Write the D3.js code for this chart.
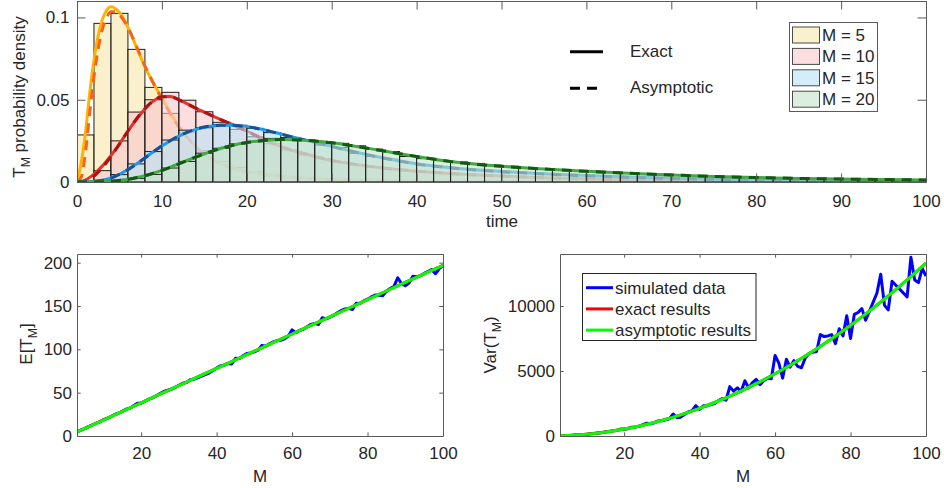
<!DOCTYPE html>
<html>
<head>
<meta charset="utf-8">
<script src="https://cdn.jsdelivr.net/npm/d3@7"></script>
<style>
  body { margin: 0; background: #fff; }
  svg text { font-family: "Liberation Sans", Arial, sans-serif; fill: #262626; }
</style>
</head>
<body>
<script>
// ---- top panel: density of T_M ----
const tGrid = [0, 0.5, 1, 1.5, 2, 2.5, 3, 3.5, 4, 4.5, 5,
  6, 7, 8, 9, 10, 11, 12, 13, 14, 15, 16, 17, 18,
  20, 22, 24, 26, 28, 30, 32, 34, 36, 38, 40,
  45, 50, 55, 60, 65, 70, 75, 80, 85, 90, 95, 100];

const exact5 = [0, 0.012, 0.030, 0.054, 0.074, 0.089, 0.099, 0.1045, 0.1065, 0.1055, 0.103,
  0.094, 0.082, 0.070, 0.060, 0.051, 0.042, 0.0335, 0.027, 0.0215, 0.017, 0.0135, 0.011, 0.009,
  0.0065, 0.0048, 0.0035, 0.0026, 0.002, 0.0015, 0.0012, 0.0009, 0.0007, 0.0005, 0.0004,
  0.0002, 0.0001, 0.00005, 0, 0, 0, 0, 0, 0, 0, 0, 0];
const asym5 = [0, 0.003, 0.018, 0.042, 0.064, 0.081, 0.093, 0.100, 0.1035, 0.1035, 0.1015,
  0.094, 0.0825, 0.0705, 0.060, 0.0505, 0.0415, 0.0335, 0.027, 0.0215, 0.017, 0.0135, 0.011, 0.009,
  0.0062, 0.0045, 0.0033, 0.0025, 0.0019, 0.0014, 0.0011, 0.0008, 0.0006, 0.0005, 0.0004,
  0.0002, 0.0001, 0, 0, 0, 0, 0, 0, 0, 0, 0, 0];
const exact10 = [0, 0.0003, 0.0012, 0.0028, 0.0048, 0.0072, 0.0098, 0.0128, 0.016, 0.0195, 0.0232,
  0.031, 0.038, 0.0443, 0.0492, 0.0518, 0.052, 0.050, 0.0475, 0.0448, 0.0425, 0.040, 0.0378, 0.0356,
  0.031, 0.026, 0.0215, 0.0182, 0.0155, 0.013, 0.0113, 0.0098, 0.0085, 0.0075, 0.0066,
  0.0048, 0.0036, 0.0026, 0.0019, 0.0014, 0.001, 0.0007, 0.0005, 0.0004, 0.0003, 0.0002, 0.0001];
const asym10 = [0, 0.0001, 0.0006, 0.0018, 0.0036, 0.006, 0.0088, 0.012, 0.0155, 0.0192, 0.023,
  0.031, 0.0383, 0.0447, 0.0494, 0.0518, 0.0519, 0.0499, 0.0474, 0.0449, 0.0425, 0.0401, 0.0378, 0.0355,
  0.0308, 0.0259, 0.0216, 0.0183, 0.0156, 0.0131, 0.0113, 0.0098, 0.0085, 0.0075, 0.0066,
  0.0048, 0.0036, 0.0026, 0.0019, 0.0014, 0.001, 0.0007, 0.0005, 0.0004, 0.0003, 0.0002, 0.0001];
const exact15 = [0, 0, 0.0001, 0.0002, 0.0004, 0.0007, 0.0011, 0.0017, 0.0025, 0.0035, 0.0047,
  0.0076, 0.011, 0.0146, 0.0184, 0.0219, 0.0251, 0.0279, 0.0302, 0.032, 0.0333, 0.0341, 0.0345, 0.0345,
  0.0337, 0.0318, 0.0292, 0.0266, 0.0242, 0.0217, 0.0192, 0.0168, 0.0147, 0.0128, 0.0111,
  0.0082, 0.0064, 0.005, 0.0039, 0.003, 0.0023, 0.0016, 0.0012, 0.0009, 0.0006, 0.0004, 0.0003];
const asym15 = [0, 0, 0, 0.0001, 0.0003, 0.0006, 0.001, 0.0016, 0.0024, 0.0034, 0.0046,
  0.0075, 0.0109, 0.0146, 0.0184, 0.022, 0.0252, 0.028, 0.0303, 0.0321, 0.0334, 0.0342, 0.0345, 0.0345,
  0.0336, 0.0317, 0.0291, 0.0265, 0.0241, 0.0216, 0.0191, 0.0167, 0.0146, 0.0127, 0.011,
  0.0081, 0.0063, 0.0049, 0.0038, 0.0029, 0.0022, 0.0016, 0.0012, 0.0009, 0.0006, 0.0004, 0.0003];
const exact20 = [0, 0, 0, 0, 0.0001, 0.0001, 0.0002, 0.0003, 0.0005, 0.0007, 0.001,
  0.0017, 0.0027, 0.0039, 0.0054, 0.0071, 0.0091, 0.0111, 0.0132, 0.0152, 0.0171, 0.0189, 0.0205, 0.0219,
  0.024, 0.0252, 0.0258, 0.0256, 0.0249, 0.0238, 0.0224, 0.0207, 0.019, 0.0172, 0.0155,
  0.0118, 0.0095, 0.0079, 0.0065, 0.0053, 0.0043, 0.0034, 0.0027, 0.0022, 0.0018, 0.0015, 0.0012];
const asym20 = [0, 0, 0, 0, 0, 0.0001, 0.0001, 0.0002, 0.0004, 0.0006, 0.0009,
  0.0016, 0.0026, 0.0038, 0.0053, 0.007, 0.009, 0.011, 0.0131, 0.0152, 0.0171, 0.0189, 0.0205, 0.0219,
  0.024, 0.0252, 0.0258, 0.0256, 0.0249, 0.0238, 0.0224, 0.0207, 0.019, 0.0172, 0.0155,
  0.0118, 0.0095, 0.0079, 0.0065, 0.0053, 0.0043, 0.0034, 0.0027, 0.0022, 0.0018, 0.0015, 0.0012];

// histogram heights, bins of width 2 from 0 to 100
const binWidth = 2;
const hist5 = [0.0286, 0.0964, 0.1025, 0.0806, 0.0575, 0.0417, 0.0300, 0.0190, 0.0125, 0.0088,
  0.0064, 0.0046, 0.0034, 0.0026, 0.0020, 0.0015, 0.0011, 0.0009, 0.0007, 0.0005,
  0.0004, 0.0003, 0.0002, 0.0002, 0.0001, 0.0001, 0.0001, 0, 0, 0,
  0, 0, 0, 0, 0, 0, 0, 0, 0, 0, 0, 0, 0, 0, 0, 0, 0, 0, 0, 0];
const hist10 = [0.0005, 0.0069, 0.0250, 0.0425, 0.0500, 0.0545, 0.0497, 0.0427, 0.0363, 0.0320,
  0.0275, 0.0232, 0.0195, 0.0165, 0.0142, 0.0122, 0.0106, 0.0092, 0.0080, 0.0070,
  0.0062, 0.0055, 0.0047, 0.0041, 0.0037, 0.0033, 0.0029, 0.0026, 0.0022, 0.0020,
  0.0017, 0.0015, 0.0014, 0.0012, 0.0011, 0.0010, 0.0008, 0.0008, 0.0007, 0.0006,
  0.0005, 0.0005, 0.0004, 0.0004, 0.0003, 0.0003, 0.0003, 0.0002, 0.0002, 0.0002];
const hist15 = [0.0001, 0.0010, 0.0045, 0.0110, 0.0185, 0.0255, 0.0315, 0.0330, 0.0350, 0.0345,
  0.0326, 0.0300, 0.0270, 0.0255, 0.0225, 0.0210, 0.0175, 0.0155, 0.0138, 0.0118,
  0.0102, 0.0092, 0.0082, 0.0075, 0.0068, 0.0062, 0.0057, 0.0051, 0.0046, 0.0041,
  0.0037, 0.0033, 0.0030, 0.0027, 0.0024, 0.0021, 0.0019, 0.0017, 0.0015, 0.0013,
  0.0012, 0.0010, 0.0009, 0.0008, 0.0007, 0.0006, 0.0005, 0.0005, 0.0004, 0.0003];
const hist20 = [0, 0.0002, 0.0010, 0.0022, 0.0046, 0.0085, 0.0125, 0.0175, 0.0205, 0.0232,
  0.0245, 0.0265, 0.0258, 0.0255, 0.0245, 0.0235, 0.0220, 0.0200, 0.0185, 0.0155,
  0.0142, 0.0130, 0.0122, 0.0113, 0.0102, 0.0096, 0.0088, 0.0082, 0.0075, 0.0070,
  0.0065, 0.0060, 0.0055, 0.0051, 0.0047, 0.0043, 0.0040, 0.0036, 0.0034, 0.0031,
  0.0029, 0.0026, 0.0024, 0.0022, 0.0020, 0.0019, 0.0017, 0.0016, 0.0014, 0.0013];

const seriesNames = ["M = 5", "M = 10", "M = 15", "M = 20"];
const timeTicks = [0, 10, 20, 30, 40, 50, 60, 70, 80, 90, 100];
const densTicks = [0, 0.05, 0.1];

// ---- bottom panels: mean and variance against M ----
const mValues = d3.range(3, 101);
const meanSim = [4.6, 6.7, 8.5, 10.8, 12.4, 14.6, 16.3, 18.7, 20.3, 22.2,
  24.8, 26.2, 28.6, 30.8, 32.1, 34.9, 37.8, 37.9, 40.1, 42.6,
  44.0, 46.5, 48.9, 51.4, 52.8, 53.9, 56.0, 58.6, 60.9, 61.8,
  64.9, 65.6, 67.2, 69.0, 70.8, 72.6, 75.2, 78.3, 80.9, 81.6,
  83.7, 83.1, 89.6, 89.4, 92.5, 95.2, 95.8, 97.1, 99.0, 104.6,
  103.5, 106.4, 108.6, 109.9, 110.4, 112.0, 115.2, 122.5, 119.2, 121.9,
  123.2, 126.0, 128.8, 129.9, 128.6, 136.4, 135.2, 137.0, 139.1, 142.2,
  144.6, 146.6, 147.2, 146.0, 153.2, 152.9, 155.9, 157.8, 160.5, 162.6,
  162.5, 161.9, 167.0, 170.2, 172.6, 182.5, 176.0, 173.4, 176.5, 184.3,
  183.9, 185.0, 187.6, 189.8, 192.0, 187.2, 193.0, 196.8];
const varSim = [14, 18, 36, 45, 70, 80, 116, 125, 170, 185,
  240, 250, 320, 330, 410, 420, 530, 510, 560, 680,
  690, 740, 870, 990, 930, 1010, 1160, 1170, 1250, 1330,
  1690, 1400, 1450, 1660, 1850, 1950, 2330, 2050, 2320, 2310,
  2420, 2500, 2720, 2880, 2750, 3800, 3450, 3700, 3420, 4250,
  3700, 4100, 4350, 3950, 4250, 4450, 4400, 6200, 5600, 4450,
  5900, 5300, 5800, 5350, 5250, 6000, 6350, 6450, 6500, 7800,
  7650, 7700, 7800, 7100, 8250, 7700, 9250, 7500, 9350, 9500,
  9800, 8900, 9600, 10300, 11000, 12450, 10050, 9700, 11900, 11600,
  11300, 11000, 10700, 13750, 12000, 11800, 12900, 12300];

const theoryM = [3, 5, 10, 15, 20, 25, 30, 35, 40, 45, 50, 55, 60, 65, 70, 75, 80, 85, 90, 95, 100];
const meanExact = [4.6, 8.6, 18.5, 28.4, 38.3, 48.3, 58.2, 68.1, 78.0, 87.9, 97.9,
  107.8, 117.7, 127.6, 137.5, 147.4, 157.4, 167.3, 177.2, 187.1, 197.0];
const meanAsym = [4.5, 8.5, 18.4, 28.4, 38.3, 48.2, 58.1, 68.1, 78.0, 87.9, 97.8,
  107.7, 117.7, 127.6, 137.5, 147.4, 157.3, 167.3, 177.2, 187.1, 197.0];
const varExact = [13, 34, 134, 300, 533, 832, 1198, 1630, 2129, 2694, 3326,
  4024, 4789, 5620, 6518, 7482, 8513, 9610, 10774, 12004, 13301];
const varAsym = [12, 33, 133, 299, 532, 831, 1197, 1629, 2128, 2693, 3325,
  4023, 4788, 5619, 6517, 7481, 8512, 9609, 10773, 12003, 13300];
const mTicks = [20, 40, 60, 80, 100];
const meanTicks = [0, 50, 100, 150, 200];
const varTicks = [0, 5000, 10000];
const lineNames = ["simulated data", "exact results", "asymptotic results"];

// ---- styling ----
const FS = 17;
const axisColor = "#5a5a5a";
// pastel faces at 0.6 opacity, like the MATLAB histogram default
const histFill = ["#F8E6AA", "#FAC6CB", "#B7E3F5", "#C5E3C6"];
const histAlpha = 0.6;
const exactColor = ["#FFB300", "#E8322A", "#1B9BEF", "#44A844"];
const asymColor = ["#F4641E", "#A81414", "#1D4F94", "#125A12"];
const dash = "10,7";

const svg = d3.select("body").append("svg")
  .attr("width", 944).attr("height", 488);

function frame(x, y, xTicks, yTicks, yFmt, tickLen, padX, padY, id) {
  const [x0, x1] = x.range();
  const [y0, y1] = y.range();
  const g = svg.append("g");
  g.append("clipPath").attr("id", id)
    .append("rect").attr("x", x0).attr("y", y1).attr("width", x1 - x0).attr("height", y0 - y1);

  g.append("g").attr("transform", `translate(0,${y0})`)
    .call(d3.axisBottom(x).tickValues(xTicks).tickSizeInner(-tickLen).tickSizeOuter(0).tickPadding(padX));
  g.append("g").attr("transform", `translate(${x0},0)`)
    .call(d3.axisLeft(y).tickValues(yTicks).tickFormat(yFmt).tickSizeInner(-tickLen).tickSizeOuter(0).tickPadding(padY));
  g.append("g").attr("transform", `translate(0,${y1})`)
    .call(d3.axisTop(x).tickValues(xTicks).tickSizeInner(-tickLen).tickSizeOuter(0).tickFormat(""));
  g.append("g").attr("transform", `translate(${x1},0)`)
    .call(d3.axisRight(y).tickValues(yTicks).tickSizeInner(-tickLen).tickSizeOuter(0).tickFormat(""));

  g.selectAll(".domain, .tick line").attr("stroke", axisColor).attr("stroke-width", 1);
  g.selectAll("g").attr("font-size", FS).attr("font-family", null);
  g.selectAll("text").attr("fill", "#262626");

  const plot = svg.append("g").attr("clip-path", `url(#${id})`);
  return { axes: g, plot };
}

function label(x, y, parts, rotate) {
  const t = svg.append("text")
    .attr("transform", `translate(${x},${y})` + (rotate ? " rotate(-90)" : ""))
    .attr("text-anchor", "middle").attr("font-size", FS);
  parts.forEach(([s, sub]) => {
    t.append("tspan").text(s)
      .attr("font-size", sub ? FS * 0.72 : null)
      .attr("dy", sub ? 4.5 : (t.selectAll("tspan").size() > 1 ? -4.5 : null));
  });
  return t;
}

// ================= top panel =================
const xT = d3.scaleLinear().domain([0, 100]).range([77, 926]);
const yT = d3.scaleLinear().domain([0, 0.11]).range([182, 1]);
const hists = [hist5, hist10, hist15, hist20];
const exacts = [exact5, exact10, exact15, exact20];
const asyms = [asym5, asym10, asym15, asym20];

const lineT = d3.line().x((d, i) => xT(tGrid[i])).y(d => yT(d)).curve(d3.curveMonotoneX);
const topArea = frame(xT, yT, timeTicks, densTicks, d => d === 0 ? "0" : String(d), 8.5, 12.5, 7.5, "clipTop");

// each M: bars, then its exact and asymptotic curves; later bars fade earlier curves
hists.forEach((h, k) => {
  const layer = topArea.plot.append("g");
  layer.selectAll("rect").data(h).join("rect")
    .attr("x", (d, i) => xT(i * binWidth))
    .attr("y", d => yT(d))
    .attr("width", xT(binWidth) - xT(0))
    .attr("height", d => yT(0) - yT(d))
    .attr("fill", histFill[k])
    .attr("fill-opacity", histAlpha)
    .attr("stroke", "#1e1e1e")
    .attr("stroke-width", 1);
  layer.append("path").datum(exacts[k])
    .attr("d", lineT).attr("fill", "none")
    .attr("stroke", exactColor[k]).attr("stroke-width", 3);
  layer.append("path").datum(asyms[k])
    .attr("d", lineT).attr("fill", "none")
    .attr("stroke", asymColor[k]).attr("stroke-width", 3)
    .attr("stroke-dasharray", dash);
});
topArea.axes.raise();

svg.append("text").attr("x", 502).attr("y", 227).attr("text-anchor", "middle")
  .attr("font-size", FS).text("time");
label(25, 97, [["T"], ["M", true], [" probability density"]], true);

// style legend (no box)
const styleLeg = svg.append("g");
[["Exact", null, 51.7], ["Asymptotic", dash, 88.3]].forEach(([name, da, y]) => {
  styleLeg.append("line").attr("x1", 570).attr("x2", 603).attr("y1", y).attr("y2", y)
    .attr("stroke", "#000").attr("stroke-width", 3).attr("stroke-dasharray", da);
  styleLeg.append("text").attr("x", 630).attr("y", y + 5)
    .attr("font-size", FS).text(name);
});

// M legend
const mLeg = svg.append("g");
mLeg.append("rect").attr("x", 789.5).attr("y", 22.5).attr("width", 88).attr("height", 89)
  .attr("fill", "#fff").attr("stroke", axisColor).attr("stroke-width", 1);
seriesNames.forEach((name, k) => {
  const cy = 35 + k * 21.4;
  mLeg.append("rect").attr("x", 792.5).attr("y", cy - 8).attr("width", 27).attr("height", 16)
    .attr("fill", histFill[k]).attr("fill-opacity", histAlpha)
    .attr("stroke", "#4a4a4a").attr("stroke-width", 1);
  mLeg.append("text").attr("x", 822).attr("y", cy + 6)
    .attr("font-size", FS).text(name);
});

// ================= bottom left: mean =================
const xL = d3.scaleLinear().domain([3, 100]).range([77, 443]);
const yL = d3.scaleLinear().domain([0, 210]).range([436, 254]);
const leftArea = frame(xL, yL, mTicks, meanTicks, d3.format("d"), 3.7, 11, 5, "clipL");
const lineSim = (x, y) => d3.line().x((d, i) => x(mValues[i])).y(d => y(d));
const lineTh = (x, y) => d3.line().x((d, i) => x(theoryM[i])).y(d => y(d)).curve(d3.curveMonotoneX);

leftArea.plot.append("path").datum(meanSim).attr("d", lineSim(xL, yL))
  .attr("fill", "none").attr("stroke", "#0000ff").attr("stroke-width", 3).attr("stroke-linejoin", "round");
leftArea.plot.append("path").datum(meanExact).attr("d", lineTh(xL, yL))
  .attr("fill", "none").attr("stroke", "#ff0000").attr("stroke-width", 3);
leftArea.plot.append("path").datum(meanAsym).attr("d", lineTh(xL, yL))
  .attr("fill", "none").attr("stroke", "#00ff00").attr("stroke-width", 3);
leftArea.axes.raise();

svg.append("text").attr("x", 260).attr("y", 482).attr("text-anchor", "middle")
  .attr("font-size", FS).text("M");
label(32, 344, [["E[T"], ["M", true], ["]"]], true);

// ================= bottom right: variance =================
const xR = d3.scaleLinear().domain([3, 100]).range([560, 926]);
const yR = d3.scaleLinear().domain([0, 14000]).range([436, 254]);
const rightArea = frame(xR, yR, mTicks, varTicks, d3.format("d"), 3.7, 11, 5, "clipR");

rightArea.plot.append("path").datum(varSim).attr("d", lineSim(xR, yR))
  .attr("fill", "none").attr("stroke", "#0000ff").attr("stroke-width", 3).attr("stroke-linejoin", "round");
rightArea.plot.append("path").datum(varExact).attr("d", lineTh(xR, yR))
  .attr("fill", "none").attr("stroke", "#ff0000").attr("stroke-width", 3);
rightArea.plot.append("path").datum(varAsym).attr("d", lineTh(xR, yR))
  .attr("fill", "none").attr("stroke", "#00ff00").attr("stroke-width", 3);
rightArea.axes.raise();

svg.append("text").attr("x", 743).attr("y", 482).attr("text-anchor", "middle")
  .attr("font-size", FS).text("M");
label(496, 345, [["Var(T"], ["M", true], [")"]], true);

// line legend
const lineColors = ["#0000ff", "#ff0000", "#00ff00"];
const rLeg = svg.append("g");
rLeg.append("rect").attr("x", 582.5).attr("y", 273.5).attr("width", 173.5).attr("height", 67)
  .attr("fill", "#fff").attr("stroke", "#262626").attr("stroke-width", 1);
lineNames.forEach((name, k) => {
  const cy = 287.7 + k * 21.2;
  rLeg.append("line").attr("x1", 586).attr("x2", 613).attr("y1", cy).attr("y2", cy)
    .attr("stroke", lineColors[k]).attr("stroke-width", 3);
  rLeg.append("text").attr("x", 615).attr("y", cy + 6)
    .attr("font-size", FS).text(name);
});
</script>
</body>
</html>
